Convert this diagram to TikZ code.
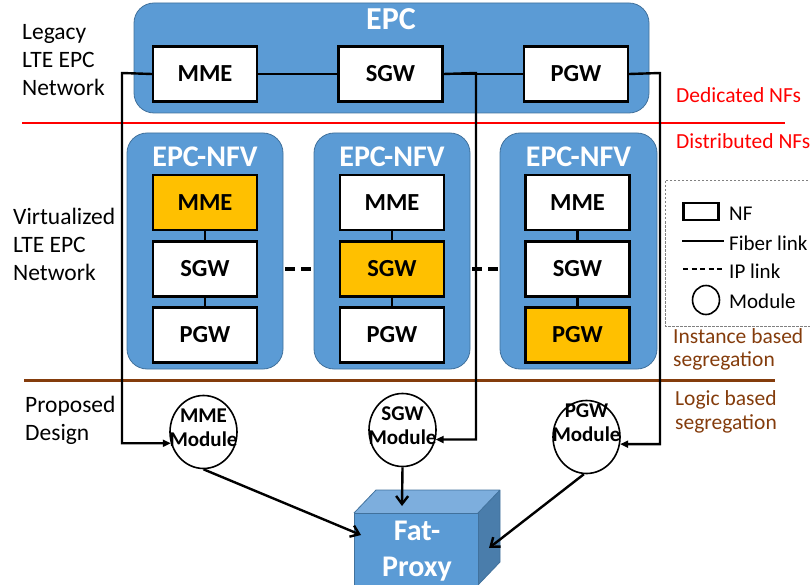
\documentclass[tikz,border=0pt]{standalone}
\usepackage{fontspec}
\setmainfont{Carlito}
\usetikzlibrary{shapes.geometric,arrows.meta}
\definecolor{boxblue}{HTML}{5B9BD5}
\definecolor{boxedge}{HTML}{41719C}
\definecolor{topblue}{HTML}{7DAEDD}
\definecolor{sideblue}{HTML}{4A7DAB}
\definecolor{gold}{HTML}{FFC000}
\definecolor{brownline}{HTML}{843C0C}
\definecolor{redline}{HTML}{FF0000}
\tikzset{
  bigbox/.style={draw=boxedge, line width=0.8pt, fill=boxblue, rounded corners=20pt, inner sep=0pt},
  nf/.style={draw=black, line width=2.4pt, fill=white, minimum width=104pt, minimum height=55pt, inner sep=0pt, font=\bfseries\fontsize{24.5}{28}\selectfont},
  nfhl/.style={nf, fill=gold},
  boxtitle/.style={text=white, inner sep=0pt, font=\bfseries\fontsize{30}{34}\selectfont},
  module/.style={ellipse, draw=black, line width=1.6pt, fill=white, minimum width=67pt, minimum height=73pt, inner sep=0pt},
  modtext/.style={inner sep=0pt, align=center, font=\bfseries\fontsize{21}{24}\selectfont},
  sidelabel/.style={inner sep=0pt, anchor=west, align=left, font=\fontsize{23.5}{28}\selectfont},
  rightlabel/.style={inner sep=0pt, anchor=west, align=left, font=\fontsize{21.5}{23.5}\selectfont},
  link/.style={line width=2.4pt, draw=black},
  iplink/.style={line width=3.5pt, draw=black, dash pattern=on 10pt off 6pt},
  inarrow/.style={link, -{Triangle[length=8pt,width=7pt]}},
  outarrow/.style={link, -{Straight Barb[length=8pt,width=12pt]}},
  legendtext/.style={inner sep=0pt, anchor=west, font=\fontsize{21}{24}\selectfont}
}
\begin{document}
\begin{tikzpicture}[x=1pt,y=-1pt]
\useasboundingbox (0,0) rectangle (810,585);

% separator lines
\draw[redline, line width=2.5pt] (22,123) -- (785,123);
\draw[brownline, line width=3pt] (24,380) -- (775,380);

% EPC legacy box
\node[bigbox, minimum width=515pt, minimum height=110pt] (epc) at (391.5,58) {};
\node[boxtitle, font=\bfseries\fontsize{32}{36}\selectfont] (epct) at (391,19) {EPC};
\node[nf] (mme) at (205,74) {MME};
\node[nf] (sgw) at (390.5,74) {SGW};
\node[nf] (pgw) at (576,74) {PGW};

% EPC-NFV boxes
\node[bigbox, minimum width=156pt, minimum height=236pt] (nfv1) at (205,251) {};
\node[bigbox, minimum width=156pt, minimum height=236pt] (nfv2) at (392,251) {};
\node[bigbox, minimum width=157pt, minimum height=236pt] (nfv3) at (578.5,251) {};
\node[boxtitle] (t1) at (205,157) {EPC-NFV};
\node[boxtitle] (t2) at (392,157) {EPC-NFV};
\node[boxtitle] (t3) at (578.5,157) {EPC-NFV};

\node[nfhl] (m1) at (205,202.5) {MME};
\node[nf] (s1) at (205,269) {SGW};
\node[nf] (p1) at (205,335) {PGW};
\node[nf] (m2) at (392,202.5) {MME};
\node[nfhl] (s2) at (392,269) {SGW};
\node[nf] (p2) at (392,335) {PGW};
\node[nf] (m3) at (577.5,202.5) {MME};
\node[nf] (s3) at (577.5,269) {SGW};
\node[nfhl] (p3) at (577.5,335) {PGW};

\foreach \a/\b in {m1/s1,s1/p1,m2/s2,s2/p2,m3/s3,s3/p3}
  \draw[link] (\a.south) -- (\b.north);

\draw[iplink] (s1.east -| nfv1.east) ++(2,0) -- (s2.west -| nfv2.west);
\draw[iplink] (s2.east -| nfv2.east) ++(2,0) -- (s3.west -| nfv3.west);

% legacy fiber links
\draw[link] (mme.east) -- (sgw.west);
\draw[link] (sgw.east) -- (pgw.west);

% modules
\node[module] (mmemod) at (203.5,432) {};
\node[module] (sgwmod) at (402.5,430) {};
\node[module] (pgwmod) at (586.5,437) {};
\node[modtext] (mmemodt) at (203.5,428) {MME\\Module};
\node[modtext] (sgwmodt) at (402.5,426) {SGW\\Module};
\node[modtext] (pgwmodt) at (586.5,423) {PGW\\Module};

\coordinate (c1) at (122,73);
\coordinate (c2) at (476,73);
\coordinate (c3) at (660,73);
\draw[inarrow] (mme.west) -- (c1) |- (mmemod.199);
\draw[inarrow] (sgw.east) -- (c2) |- (sgwmod.344);
\draw[inarrow] (pgw.east) -- (c3) |- (pgwmod.348);

% fat proxy cube
\fill[topblue] (354,513) -- (376,490) -- (500,490) -- (478,513) -- cycle;
\fill[sideblue] (478,513) -- (500,490) -- (500,562) -- (478,585) -- cycle;
\draw[boxedge, line width=0.8pt, line join=round] (354,513) -- (376,490) -- (500,490) -- (478,513) (500,490) -- (500,562) -- (478,585);
\node[draw=boxedge, line width=0.8pt, fill=boxblue, minimum width=124pt, minimum height=73pt, inner sep=0pt] (fp) at (416,549.5) {};
\node[text=white, align=center, inner sep=0pt, font=\bfseries\fontsize{30}{36}\selectfont] (fpt) at (417,551) {Fat-\\Proxy};
\coordinate (fpL) at (361,535);
\coordinate (fpT) at (402,506);
\coordinate (fpR) at (489,548);
\draw[outarrow] (mmemod.south) -- (fpL);
\draw[outarrow] (sgwmod.south) -- (fpT);
\draw[outarrow] (pgwmod.266) -- (fpR);

% side labels
\node[sidelabel] (lg) at (22,60.5) {Legacy\\LTE EPC\\Network};
\node[sidelabel] (vt) at (13,244) {Virtualized\\LTE EPC\\Network};
\node[sidelabel] (pd) at (25,420) {Proposed\\Design};

\node[rightlabel, text=redline] (ded) at (676,95) {Dedicated NFs};
\node[rightlabel, text=redline] (dis) at (676,141) {Distributed NFs};
\node[rightlabel, text=brownline] (ins) at (673,349.5) {Instance based\\segregation};
\node[rightlabel, text=brownline] (log) at (675,412) {Logic based\\segregation};

% legend
\draw[gray, line width=0.8pt, dash pattern=on 2.5pt off 1.5pt] (812,180) -- (665,180) -- (665,326) -- (812,326);
\node[draw=black, line width=2.2pt, minimum width=35pt, minimum height=17pt, inner sep=0pt] (lnf) at (701,211.5) {};
\node[legendtext] (lnft) at (729,214) {NF};
\coordinate (lf1) at (682,241);
\coordinate (lf2) at (724,241);
\draw[link] (lf1) -- (lf2);
\node[legendtext] (lfit) at (729,243) {Fiber link};
\coordinate (li1) at (683,269);
\coordinate (li2) at (724,269);
\draw[line width=2.2pt, dash pattern=on 5pt off 3.5pt] (li1) -- (li2);
\node[legendtext] (lipt) at (729,271) {IP link};
\node[ellipse, draw=black, line width=1.6pt, minimum width=27pt, minimum height=29pt, inner sep=0pt] (lmod) at (706,300) {};
\node[legendtext] (lmodt) at (729,301) {Module};
\end{tikzpicture}
\end{document}
